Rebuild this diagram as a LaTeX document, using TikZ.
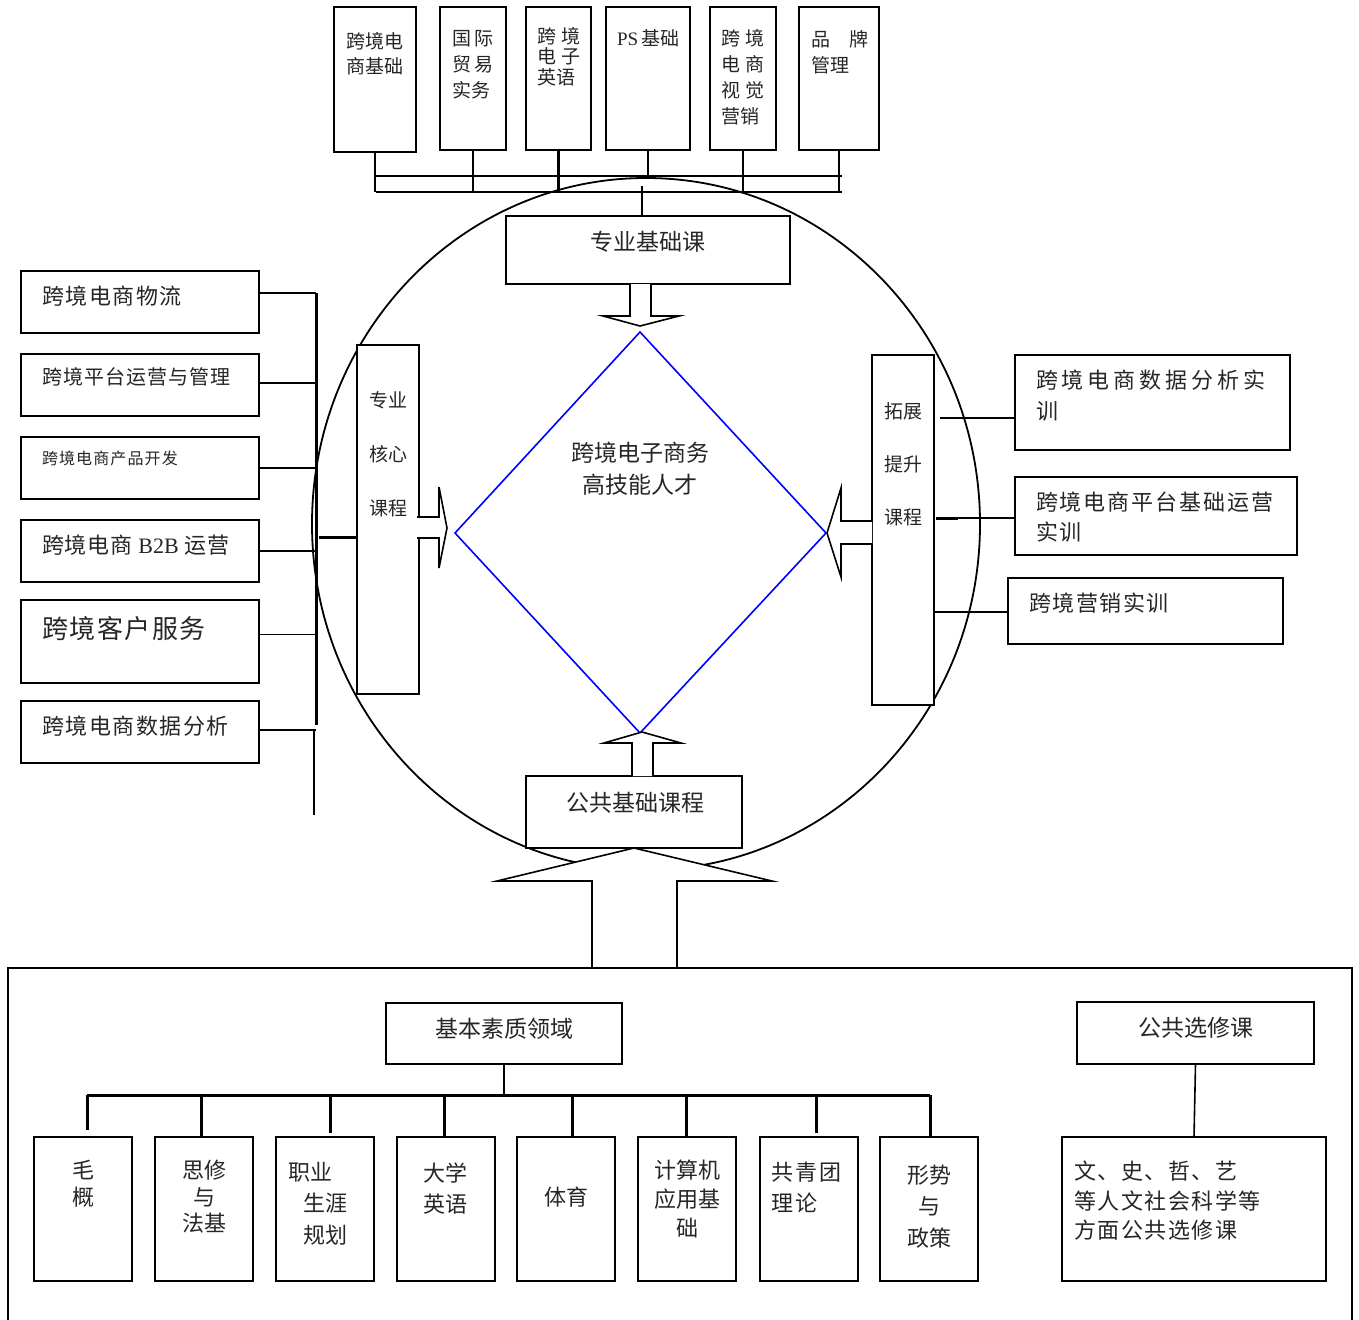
\documentclass[tikz,border=0pt]{standalone}
\usepackage{fontspec}
\setmainfont{Noto Sans CJK SC}
\newfontfamily\latf{Liberation Serif}
\newcommand\fs[2]{\fontsize{#1}{#2}\selectfont}
\newcommand\lsp[1]{\addfontfeatures{LetterSpace=#1}}
\newcommand\mybox[5]{\node[box, minimum width={(#4-#2)*1pt}, minimum height={(#5-#3)*1pt}] (#1) at ({(#2+#4)/2},{(#3+#5)/2}) {};}
\begin{document}
\begin{tikzpicture}[x=1pt,y=-1pt,
 box/.style={draw, line width=1.8pt, fill=white, inner sep=0pt, outer sep=0pt},
 txt/.style={inner sep=0pt, outer sep=0pt, align=left, text=black!85},
 ctxt/.style={inner sep=0pt, outer sep=0pt, align=center, text=black!85},
 ln/.style={line width=1.6pt},
 thk/.style={line width=3pt},
 blk/.style={draw, line width=1.6pt, fill=white, line join=miter},
]
\useasboundingbox (0,0) rectangle (1359,1319);
\fill[white] (0,0) rectangle (1359,1319);

% big circle
\draw[line width=1.8pt] (646,524) ellipse [x radius=334pt, y radius=346pt];

% top boxes
\mybox{T1}{334}{7}{416}{152}
\mybox{T2}{440}{7}{506}{150}
\mybox{T3}{526}{7}{591}{150}
\mybox{T4}{606}{7}{690}{150}
\mybox{T5}{710}{7}{776}{150}
\mybox{T6}{799}{7}{879}{150}
\node[txt, anchor=north west, font=\fs{19}{25}] (tT1) at (346,32) {跨境电\\商基础};
\node[txt, anchor=north west, font=\fs{19}{26}] (tT2) at (452,30) {国\hspace{4pt}际\\贸\hspace{4pt}易\\实务};
\node[txt, anchor=north west, font=\fs{19}{20.5}] (tT3) at (537,27) {跨\hspace{5pt}境\\电\hspace{5pt}子\\英语};
\node[txt, anchor=north west, font=\fs{19}{25}] (tT4) at (617,30) {{\latf PS}\,基础};
\node[txt, anchor=north west, font=\fs{19}{26}] (tT5) at (721,29) {跨\hspace{6pt}境\\电\hspace{6pt}商\\视\hspace{6pt}觉\\营销};
\node[txt, anchor=north west, font=\fs{19}{26}] (tT6) at (811,30) {品\hspace{19pt}牌\\管理};

% top bus
\coordinate (tuL) at (376,176);
\coordinate (tuR) at (842,176);
\coordinate (tlL) at (376,192);
\coordinate (tlR) at (842,192);
\draw[line width=2.5pt] (tuL) -- (tuR);
\draw[line width=2.5pt] (tlL) -- (tlR);
\draw[line width=2.5pt] (T1.south) -- (T1.south |- tlL);
\draw[line width=2.5pt] (T2.south) -- (T2.south |- tlL);
\draw[line width=2.5pt] (T3.south) -- (T3.south |- tlL);
\draw[line width=2.5pt] (T4.south) -- (T4.south |- tuL);
\draw[line width=2.5pt] (T5.south) -- (T5.south |- tlL);
\draw[line width=2.5pt] (T6.south) -- (T6.south |- tlL);

% 专业基础课
\mybox{ZJ}{506}{216}{790}{284}
\node[ctxt, font=\fs{23}{28}] (tZJ) at (648,242) {专业基础课};
\coordinate (zjtop) at (642,186);
\draw[ln] (zjtop) -- (zjtop |- ZJ.north);
\draw[blk] (630,284) -- (630,316) -- (603,316) -- (640,326) -- (679,316) -- (651,316) -- (651,284);

% diamond
\coordinate (dT) at (640,332);
\coordinate (dR) at (826,533);
\coordinate (dB) at (640,733);
\coordinate (dL) at (455,533);
\draw[blue, line width=1.6pt] (dT) -- (dR) -- (dB) -- (dL) -- cycle;
\node[ctxt, font=\fs{23}{32}] (tD) at (640,469) {跨境电子商务\\高技能人才};

% core box
\mybox{core}{357}{345}{419}{694}
\node[ctxt, font=\fs{19}{54}] (tcore) at (388,454) {专业\\核心\\课程};
\draw[blk] (417,517) -- (439,517) -- (439,487) -- (447,528) -- (439,568) -- (439,538) -- (417,538);

% expand box
\mybox{exp}{872}{355}{934}{705}
\node[ctxt, font=\fs{19}{53}] (texp) at (903,464) {拓展\\提升\\课程};
\draw[blk] (872,521) -- (841,521) -- (841,488) -- (827,533) -- (841,577) -- (841,544) -- (872,544);

% right boxes
\mybox{R1}{1015}{355}{1290}{450}
\mybox{R2}{1015}{477}{1297}{555}
\mybox{R3}{1008}{578}{1283}{644}
\node[txt, anchor=north west, font=\fs{22}{31}\lsp{18}] (tR1) at (1036,370) {跨境电商数据分析实\\训};
\node[txt, anchor=north west, font=\fs{22}{30}\lsp{9}] (tR2) at (1036,492) {跨境电商平台基础运营\\实训};
\node[txt, anchor=north west, font=\fs{22}{30}\lsp{7}] (tR3) at (1029,593) {跨境营销实训};
\coordinate (r1a) at (940,418);
\coordinate (r2a) at (936,518);
\coordinate (r3a) at (934,612);
\draw[ln] (r1a) -- (r1a -| R1.west);
\draw[ln] (r2a) -- (r2a -| R2.west);
\draw[line width=3pt] (r2a) -- ++(22,0);
\draw[ln] (r3a) -- (r3a -| R3.west);

% left boxes
\mybox{L1}{21}{271}{259}{333}
\mybox{L2}{21}{354}{259}{416}
\mybox{L3}{21}{437}{259}{499}
\mybox{L4}{21}{520}{259}{582}
\mybox{L5}{21}{600}{259}{683}
\mybox{L6}{21}{701}{259}{763}
\node[txt, anchor=north west, font=\fs{22}{28}\lsp{7}] (tL1) at (42,286) {跨境电商物流};
\node[txt, anchor=north west, font=\fs{20}{26}\lsp{5}] (tL2) at (42,368) {跨境平台运营与管理};
\node[txt, anchor=north west, font=\fs{16}{20}\lsp{7}] (tL3) at (42,451) {跨境电商产品开发};
\node[txt, anchor=north west, font=\fs{22}{28}\lsp{4}] (tL4) at (42,535) {跨境电商 {\latf B2B} 运营};
\node[txt, anchor=north west, font=\fs{26}{32}\lsp{6}] (tL5) at (42,616) {跨境客户服务};
\node[txt, anchor=north west, font=\fs{22}{28}\lsp{7}] (tL6) at (42,716) {跨境电商数据分析};
\coordinate (lbT) at (316,293);
\coordinate (lbB) at (316,725);
\coordinate (lbX) at (314,729);
\coordinate (lbE) at (314,815);
\draw[thk] (lbT) -- (lbB);
\draw[ln] (lbX) -- (lbE);
\draw[ln] ([yshift=9pt]L1.east) -- ([yshift=9pt]L1.east -| lbT);
\draw[ln] ([yshift=2pt]L2.east) -- ([yshift=2pt]L2.east -| lbT);
\draw[ln] (L3.east) -- (L3.east -| lbT);
\draw[ln] (L4.east) -- (L4.east -| lbT);
\draw[ln] ([yshift=7pt]L5.east) -- ([yshift=7pt]L5.east -| lbT);
\draw[ln] ([yshift=2pt]L6.east) -- ([yshift=2pt]L6.east -| lbT);
\coordinate (corec) at (319,537);
\draw[thk] (corec) -- (corec -| core.west);

% 公共基础课程
\mybox{GJ}{526}{776}{742}{848}
\node[ctxt, font=\fs{23}{28}] (tGJ) at (635,803) {公共基础课程};
\draw[blk] (632,776) -- (632,743) -- (604,743) -- (642,732) -- (681,743) -- (653,743) -- (653,776);

% big arrow and bottom container
\draw[blk] (592,968) -- (592,881) -- (497,881) -- (634,848) -- (772,881) -- (677,881) -- (677,968);
\draw[ln] (8,1325) -- (8,968) -- (1352,968) -- (1352,1325);

% bottom section
\mybox{JB}{386}{1003}{622}{1064}
\mybox{GX}{1077}{1002}{1314}{1064}
\node[ctxt, font=\fs{23}{28}] (tJB) at (504,1029) {基本素质领域};
\node[ctxt, font=\fs{23}{28}] (tGX) at (1196,1028) {公共选修课};

\mybox{B1}{34}{1137}{132}{1281}
\mybox{B2}{155}{1137}{253}{1281}
\mybox{B3}{276}{1137}{374}{1281}
\mybox{B4}{397}{1137}{495}{1281}
\mybox{B5}{517}{1137}{615}{1281}
\mybox{B6}{638}{1137}{736}{1281}
\mybox{B7}{760}{1137}{858}{1281}
\mybox{B8}{880}{1137}{978}{1281}
\mybox{XK}{1062}{1137}{1326}{1281}

\node[ctxt, font=\fs{22}{27}] (tB1) at (83,1183.5) {毛\\概};
\node[ctxt, font=\fs{22}{26.5}] (tB2) at (204,1197) {思修\\与\\法基};
\node[txt, anchor=north west, font=\fs{22}{31.5}] (tB3) at (288,1162) {职业\\\hspace*{15pt}生涯\\\hspace*{15pt}规划};
\node[ctxt, font=\fs{22}{31}] (tB4) at (445,1188.5) {大学\\英语};
\node[ctxt, font=\fs{22}{27}] (tB5) at (566,1197) {体育};
\node[ctxt, font=\fs{22}{29}] (tB6) at (687,1199) {计算机\\应用基\\础};
\node[txt, anchor=north west, font=\fs{22}{31}\lsp{10}] (tB7) at (771,1162) {共青团\\理论};
\node[ctxt, font=\fs{22}{31.5}] (tB8) at (929,1206.5) {形势\\与\\政策};
\node[txt, anchor=north west, font=\fs{22}{29.5}\lsp{7}] (tXK) at (1074,1161) {文、史、哲、艺\\等人文社会科学等\\方面公共选修课};

\coordinate (bb1) at (87,1095);
\coordinate (bb8) at (930,1095);
\draw[thk] (bb1) -- (bb8);
\draw[ln] (JB.south) -- (JB.south |- bb1);
\coordinate (d1) at (87,1095);
\coordinate (d2) at (201,1095);
\coordinate (d3) at (330,1095);
\coordinate (d4) at (444,1095);
\coordinate (d5) at (572,1095);
\coordinate (d6) at (686,1095);
\coordinate (d7) at (816,1095);
\coordinate (d8) at (930,1095);
\draw[thk] (d1) -- ([yshift=7pt]d1 |- B1.north);
\draw[thk] (d2) -- (d2 |- B2.north);
\draw[thk] (d3) -- ([yshift=4pt]d3 |- B3.north);
\draw[thk] (d4) -- (d4 |- B4.north);
\draw[thk] (d5) -- (d5 |- B5.north);
\draw[thk] (d6) -- (d6 |- B6.north);
\draw[thk] (d7) -- ([yshift=4pt]d7 |- B7.north);
\draw[thk] (d8) -- (d8 |- B8.north);
\draw[ln] (GX.south) -- (XK.north);
\end{tikzpicture}
\end{document}
